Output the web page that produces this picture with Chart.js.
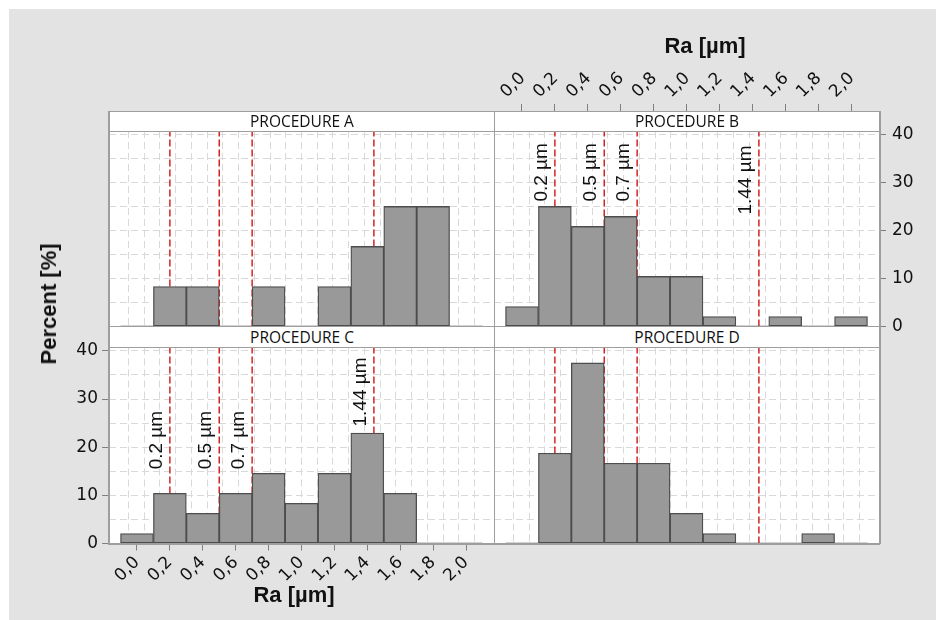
<!DOCTYPE html>
<html>
<head>
<meta charset="utf-8">
<script src="https://cdn.jsdelivr.net/npm/chart.js@4.4.1/dist/chart.umd.min.js"></script>
<style>
  body { margin: 0; width: 936px; height: 620px; background: #fff; position: relative; overflow: hidden; }
  #bg { position: absolute; left: 9px; top: 9px; right: 0; bottom: 0; background: #e3e3e3; }
  #plotbg { position: absolute; left: 109px; top: 111px; width: 770px; height: 433px; background: #fff; }
  canvas { position: absolute; left: 0; top: 0; }
  .strip { position: absolute; box-sizing: border-box; background: #fff; border: 1px solid #9e9e9e;
           text-align: center; font: 15.5px "Open Sans", sans-serif; color: #111; }
  .line { position: absolute; background: #9e9e9e; }
  .title { position: absolute; font: bold 22px "Liberation Sans", Arial, sans-serif; color: #111; white-space: nowrap; }
</style>
</head>
<body>
<div id="bg"></div>
<div id="plotbg"></div>
<canvas id="cA" width="936" height="620"></canvas>
<canvas id="cB" width="936" height="620"></canvas>
<canvas id="cC" width="936" height="620"></canvas>
<canvas id="cD" width="936" height="620"></canvas>

<div class="strip" style="left:109px;top:111px;width:386px;height:21px;line-height:19px">PROCEDURE A</div>
<div class="strip" style="left:494px;top:111px;width:386px;height:21px;line-height:19px">PROCEDURE B</div>
<div class="strip" style="left:109px;top:326px;width:386px;height:22px;line-height:20px">PROCEDURE C</div>
<div class="strip" style="left:494px;top:326px;width:386px;height:22px;line-height:20px">PROCEDURE D</div>
<!-- cadre -->
<div class="line" style="left:108px;top:111px;width:1.5px;height:433px"></div>
<div class="line" style="left:879px;top:111px;width:1.5px;height:433px"></div>
<div class="line" style="left:494px;top:111px;width:1px;height:433px"></div>
<div class="line" style="left:108px;top:543px;width:772px;height:1.5px"></div>

<div class="title" style="left:49px;top:304px;transform:translate(-50%,-50%) rotate(-90deg)">Percent [%]</div>
<div class="title" style="left:294px;top:595px;transform:translate(-50%,-50%)">Ra [µm]</div>
<div class="title" style="left:705px;top:46px;transform:translate(-50%,-50%)">Ra [µm]</div>

<script>
// Centres des classes de l'histogramme (largeur 0,2 µm)
const binCenters = [0.0, 0.2, 0.4, 0.6, 0.8, 1.0, 1.2, 1.4, 1.6, 1.8, 2.0];

// Pourcentages par procédure
const percentA = [0, 8.33, 8.33, 0, 8.33, 0, 8.33, 16.67, 25, 25, 0];
const percentB = [4.17, 25, 20.83, 22.92, 10.42, 10.42, 2.08, 0, 2.08, 0, 2.08];
const percentC = [2.08, 10.42, 6.25, 10.42, 14.58, 8.33, 14.58, 22.92, 10.42, 0, 0];
const percentD = [0, 18.75, 37.5, 16.67, 16.67, 6.25, 2.08, 0, 0, 2.08, 0];

// Lignes de référence
const refValues = [0.2, 0.5, 0.7, 1.44];
const refLabels = ['0.2 µm', '0.5 µm', '0.7 µm', '1.44 µm'];
const labelStartB = [26, 26, 26, 23.3];
const labelStartC = [15.4, 15.4, 15.4, 24.3];

// Graduations
const xTickValues = [0.0, 0.2, 0.4, 0.6, 0.8, 1.0, 1.2, 1.4, 1.6, 1.8, 2.0];
const yTickValues = [0, 10, 20, 30, 40];

const X_MIN = -0.17, X_MAX = 2.17, Y_MAX = 40.7;
const AXIS_SIZE = 60;
const STRIP_H = 20;

// grille tous les 0,1 en x et tous les 5 en y
const halfBin = 0.1;
const xGrid = [];
binCenters.forEach(c => { xGrid.push(+(c - halfBin).toFixed(2)); xGrid.push(c); });
xGrid.push(+(binCenters[binCenters.length - 1] + halfBin).toFixed(2));
const yGrid = [];
yTickValues.forEach((v, i) => {
    yGrid.push(v);
    if (i < yTickValues.length - 1) yGrid.push((v + yTickValues[i + 1]) / 2);
});

function isYLabel(v) { return yTickValues.includes(v); }
function fmtX(v) { return v.toFixed(1).replace('.', ','); }

const refLabelPlugin = {
    id: 'refLabels',
    afterDatasetsDraw(chart, args, opts) {
        if (!opts.starts) return;
        const ctx = chart.ctx;
        const xs = chart.scales.x, ys = chart.scales.y;
        ctx.save();
        ctx.font = '19px "Liberation Sans", Arial, sans-serif';
        ctx.fillStyle = '#111';
        ctx.textAlign = 'left';
        ctx.textBaseline = 'alphabetic';
        refValues.forEach((v, i) => {
            const px = xs.getPixelForValue(v);
            const py = ys.getPixelForValue(opts.starts[i]);
            ctx.save();
            ctx.translate(px - 8, py);
            ctx.rotate(-Math.PI / 2);
            ctx.fillText(refLabels[i], 0, 0);
            ctx.restore();
        });
        ctx.restore();
    }
};

function makePanel(id, values, rect, xPos, yPos, labelStarts) {
    const showX = !!xPos, showY = !!yPos;
    const datasets = [];

    datasets.push({
        type: 'line',
        data: [{x: binCenters[0] - halfBin, y: 0}, {x: binCenters[binCenters.length - 1] + halfBin, y: 0}],
        borderColor: '#4d4d4d',
        borderWidth: 1.5,
        pointRadius: 0,
        order: -1
    });
    datasets.push({
        type: 'bar',
        data: binCenters.map((c, i) => ({x: c, y: values[i]})),
        backgroundColor: '#999999',
        borderColor: '#4d4d4d',
        borderWidth: 1.3,
        borderSkipped: false,
        barPercentage: 1,
        categoryPercentage: 1,
        order: 0
    });
    refValues.forEach(v => {
        datasets.push({
            type: 'line',
            data: [{x: v, y: 0}, {x: v, y: Y_MAX}],
            borderColor: '#d42424',
            borderWidth: 1.5,
            borderDash: [7, 3],
            pointRadius: 0,
            order: 1
        });
    });

    // l'axe du haut est placé au-dessus du bandeau de titre
    const xTickLen = xPos === 'top' ? 7 + STRIP_H : 7;

    new Chart(document.getElementById(id), {
        type: 'bar',
        data: { datasets: datasets },
        plugins: [refLabelPlugin],
        options: {
            responsive: false,
            animation: false,
            devicePixelRatio: 1,
            layout: {
                padding: {
                    left: rect.l - (yPos === 'left' ? AXIS_SIZE : 0),
                    right: 936 - rect.r - (yPos === 'right' ? AXIS_SIZE : 0),
                    top: rect.t - (xPos === 'top' ? AXIS_SIZE : 0),
                    bottom: 620 - rect.b - (xPos === 'bottom' ? AXIS_SIZE : 0)
                }
            },
            plugins: {
                legend: { display: false },
                tooltip: { enabled: false },
                refLabels: { starts: labelStarts }
            },
            scales: {
                x: {
                    type: 'linear',
                    position: xPos || 'bottom',
                    min: X_MIN,
                    max: X_MAX,
                    offset: false,
                    afterBuildTicks: s => { s.ticks = xTickValues.map(v => ({value: v})); },
                    afterFit: s => { s.height = showX ? AXIS_SIZE : 0; },
                    ticks: {
                        display: showX,
                        autoSkip: false,
                        minRotation: 45,
                        maxRotation: 45,
                        padding: 2,
                        labelOffset: xPos === 'top' ? -4 : 0,
                        color: '#111',
                        font: { family: 'DejaVu Sans', size: 17 },
                        callback: v => fmtX(v)
                    },
                    grid: {
                        offset: false,
                        drawOnChartArea: false,
                        drawTicks: showX,
                        tickLength: xTickLen,
                        tickWidth: 1,
                        tickColor: '#808080'
                    },
                    border: { display: false }
                },
                xgrid: {
                    type: 'linear',
                    axis: 'x',
                    position: xPos || 'bottom',
                    min: X_MIN,
                    max: X_MAX,
                    afterBuildTicks: s => { s.ticks = xGrid.map(v => ({value: v})); },
                    afterFit: s => { s.height = 0; },
                    ticks: { display: false },
                    grid: { color: '#d9d9d9', lineWidth: 1, drawTicks: false, offset: false },
                    border: { display: false, dash: [7, 4] }
                },
                y: {
                    type: 'linear',
                    position: yPos || 'left',
                    min: 0,
                    max: Y_MAX,
                    afterBuildTicks: s => { s.ticks = yGrid.map(v => ({value: v})); },
                    afterFit: s => { s.width = showY ? AXIS_SIZE : 0; },
                    ticks: {
                        display: showY,
                        autoSkip: false,
                        padding: yPos === 'right' ? 6 : 4,
                        color: '#111',
                        font: { family: 'DejaVu Sans', size: 17 },
                        callback: v => isYLabel(v) ? String(v) : ''
                    },
                    grid: {
                        color: '#d9d9d9',
                        lineWidth: 1,
                        drawTicks: showY,
                        tickLength: 7,
                        tickWidth: 1,
                        tickColor: c => (c.tick && isYLabel(c.tick.value)) ? '#808080' : 'rgba(0,0,0,0)'
                    },
                    border: { display: false, dash: [7, 4] }
                }
            }
        }
    });
}

makePanel('cA', percentA, {l: 109, t: 131, r: 494, b: 326.5}, null, null, null);
makePanel('cB', percentB, {l: 494, t: 131, r: 879, b: 326.5}, 'top', 'right', labelStartB);
makePanel('cC', percentC, {l: 109, t: 347.5, r: 494, b: 543.5}, 'bottom', 'left', labelStartC);
makePanel('cD', percentD, {l: 494, t: 347.5, r: 879, b: 543.5}, null, null, null);
</script>
</body>
</html>
